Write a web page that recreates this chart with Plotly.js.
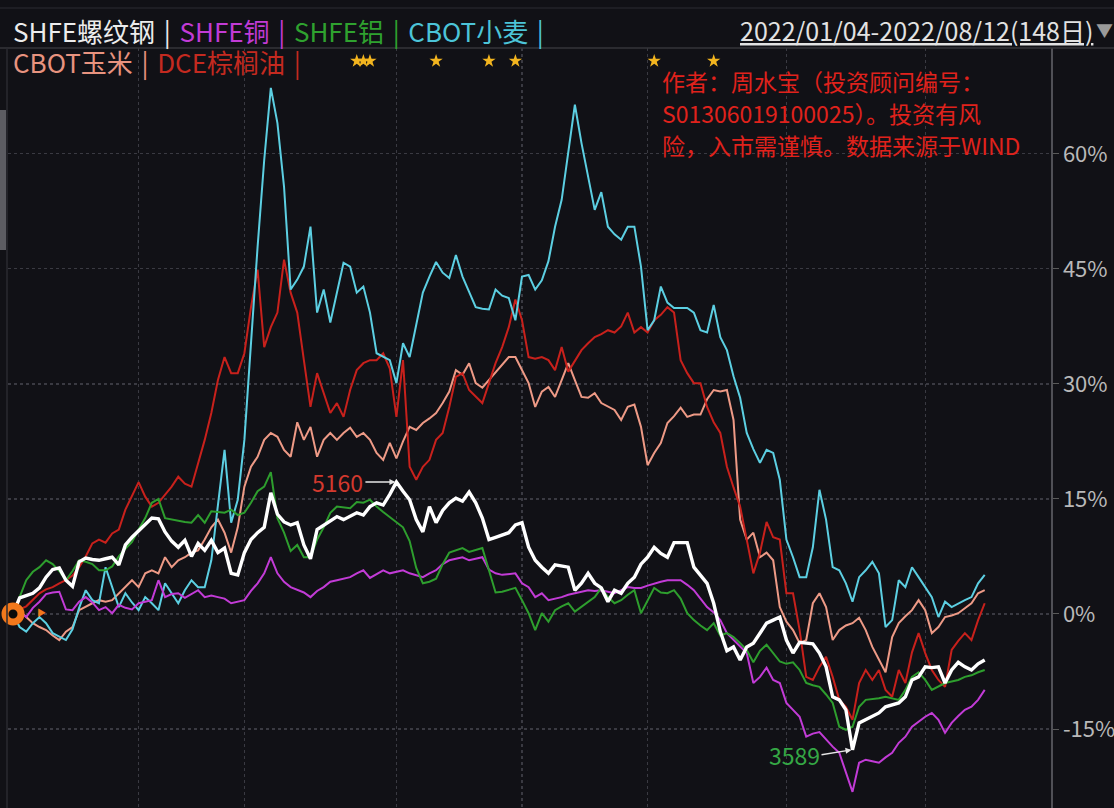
<!DOCTYPE html>
<html>
<head>
<meta charset="utf-8">
<script src="https://cdn.plot.ly/plotly-3.0.1.min.js"></script>
<style>
html,body{margin:0;padding:0;background:#111116;}
#chart{width:1114px;height:808px;}
</style>
</head>
<body>
<div id="chart"></div>
<script>
// ---- data (cumulative % change since 2022/01/04, one value per trading day) ----
const seriesNames = ['SHFE螺纹钢', 'SHFE铜', 'SHFE铝', 'CBOT小麦', 'CBOT玉米', 'DCE棕榈油'];
const dateRange = '2022/01/04-2022/08/12(148日)';
// first trading-day index of Feb, Mar, Apr, May, Jun, Jul, Aug
const monthStartIdx = [19, 35, 58, 77, 96, 117, 138];
const yTicks = [-15, 0, 15, 30, 45, 60];
const yTickText = ['-15%', '0%', '15%', '30%', '45%', '60%'];
const starDays = [52, 53, 54, 64, 72, 76, 97, 106];
const rebarHighLabel = '5160';
const rebarLowLabel = '3589';
const noteLines = ['作者：周水宝（投资顾问编号：', 'S01306019100025）。投资有风', '险，入市需谨慎。数据来源于WIND'];

const rebar = [0, 2.1, 2.4, 2.7, 3.4, 4.8, 5.8, 6.0, 4.4, 3.6, 6.8, 7.3, 7.1, 7.0, 7.2, 7.4, 6.4, 9.0, 10.0, 10.8, 11.6, 12.5, 12.4, 10.7, 9.5, 8.7, 9.6, 7.5, 9.2, 8.3, 9.6, 8.0, 8.6, 5.3, 5.1, 8.0, 9.7, 10.6, 11.3, 15.8, 13.0, 12.0, 11.6, 11.9, 9.0, 7.2, 11.0, 11.6, 12.2, 12.7, 12.3, 12.7, 13.2, 12.9, 14.0, 14.5, 14.2, 15.6, 17.2, 16.0, 14.9, 12.3, 10.7, 14.0, 11.9, 13.5, 14.5, 15.1, 14.7, 15.9, 14.5, 12.5, 9.7, 10.0, 10.3, 10.6, 11.6, 11.9, 8.7, 7.0, 6.1, 5.3, 6.4, 6.2, 6.1, 3.1, 4.0, 5.3, 4.0, 3.4, 1.6, 3.1, 2.7, 4.0, 4.8, 6.5, 7.4, 8.7, 7.9, 7.4, 9.3, 9.3, 9.3, 6.1, 5.0, 4.0, 1.4, -2.3, -4.8, -4.3, -6.0, -4.3, -3.8, -2.5, -1.2, -0.8, -0.4, -3.4, -5.1, -3.7, -3.8, -3.9, -5.1, -6.9, -10.8, -11.2, -12.5, -17.7, -14.2, -13.8, -13.3, -12.9, -12.1, -11.8, -11.6, -10.8, -8.6, -8.2, -6.9, -7.0, -6.9, -9.0, -7.3, -6.3, -6.9, -7.3, -6.5, -6.0];

const copper = [0, 0.3, -0.4, 0.8, 1.6, 2.6, 2.8, 2.9, 0.6, 0.5, 1.6, 2.2, 1.5, 0.5, 0.9, 0.1, 1.2, 0.8, 0.6, 1.4, 1.6, 1.8, 4.4, 2.2, 2.6, 2.7, 2.1, 2.6, 3.1, 2.2, 2.4, 2.2, 2.0, 1.4, 1.6, 1.8, 3.0, 4.0, 5.3, 7.4, 5.3, 4.2, 3.5, 3.1, 2.8, 2.2, 3.0, 3.5, 4.2, 4.4, 4.6, 4.8, 5.3, 5.7, 4.7, 5.2, 5.7, 5.3, 5.5, 5.7, 5.3, 5.0, 4.8, 5.3, 5.7, 6.5, 7.0, 7.2, 7.4, 7.0, 7.2, 7.4, 5.8, 5.3, 5.1, 5.2, 5.3, 4.0, 3.5, 2.2, 2.7, 1.8, 2.0, 2.2, 2.5, 2.7, 2.9, 3.1, 3.0, 3.1, 2.9, 2.7, 3.1, 3.5, 3.4, 3.4, 3.7, 4.0, 4.2, 4.4, 4.4, 4.4, 3.8, 3.1, 2.0, 0.9, 0.2, -0.8, -2.5, -3.4, -4.3, -5.1, -9.0, -8.2, -7.0, -8.6, -9.0, -11.6, -12.5, -13.4, -16.0, -15.6, -15.4, -16.4, -17.3, -18.1, -20.7, -23.2, -19.4, -19.0, -19.2, -19.4, -18.7, -18.1, -16.8, -16.0, -14.7, -14.0, -13.4, -12.9, -13.8, -15.5, -14.2, -13.3, -12.5, -12.1, -11.2, -9.9];

const aluminium = [0, 2.2, 4.4, 5.5, 6.1, 7.0, 6.5, 5.6, 4.4, 5.6, 7.0, 6.8, 6.5, 5.7, 5.7, 6.2, 7.5, 8.5, 9.4, 11.0, 12.5, 14.5, 15.0, 12.5, 12.3, 12.1, 12.0, 11.9, 12.9, 11.9, 13.4, 13.3, 13.2, 13.6, 12.9, 13.2, 14.5, 16.0, 16.6, 18.5, 12.5, 10.6, 8.2, 9.0, 7.4, 7.4, 9.7, 11.3, 13.2, 14.0, 13.9, 13.8, 14.6, 14.5, 14.9, 14.0, 13.3, 12.6, 12.0, 11.3, 9.5, 6.0, 4.0, 4.2, 4.6, 6.5, 8.0, 8.3, 8.6, 8.1, 8.4, 8.6, 5.7, 2.8, 2.9, 3.2, 3.4, 1.8, 0.1, -2.1, 0.1, -1.0, 0.5, 1.0, 1.4, 0.3, 0.9, 1.6, 2.2, 3.4, 2.2, 1.4, 1.8, 2.5, 3.1, 0.1, 1.8, 3.4, 2.8, 2.7, 3.1, 2.0, 0.1, -0.8, -1.5, -2.1, -1.2, -2.8, -2.5, -3.0, -3.8, -4.7, -6.3, -4.8, -4.0, -5.1, -6.2, -6.5, -6.3, -7.3, -9.0, -9.3, -9.5, -10.5, -11.6, -14.7, -15.1, -14.7, -12.1, -11.2, -11.1, -11.0, -10.8, -11.0, -11.2, -9.9, -8.2, -7.6, -8.6, -9.9, -9.5, -9.0, -8.8, -8.6, -8.2, -8.0, -7.6, -7.3];

const wheat = [0, -1.7, -2.3, -1.2, -0.4, -1.2, -2.5, -3.0, -3.4, -2.0, 0.8, 3.1, 1.8, 1.4, 6.1, 3.5, 0.9, 2.7, 1.5, 0.5, 2.2, 1.4, 0.5, 4.0, 2.7, 1.4, 3.1, 4.4, 3.5, 3.5, 7.0, 14.5, 21.4, 11.9, 14.9, 22.7, 35.7, 47.9, 59.2, 68.6, 64.0, 55.7, 42.3, 43.6, 45.3, 50.5, 39.3, 42.3, 38.0, 41.9, 45.8, 45.3, 41.9, 42.7, 39.3, 34.0, 33.5, 33.1, 30.1, 35.3, 33.5, 37.5, 41.9, 44.0, 45.9, 44.5, 43.8, 46.8, 44.0, 42.0, 40.0, 39.8, 39.7, 42.3, 41.5, 41.2, 38.3, 44.0, 44.2, 42.3, 43.5, 46.0, 50.5, 54.0, 60.5, 66.4, 61.4, 57.0, 52.7, 55.0, 50.5, 49.5, 48.8, 50.5, 50.5, 45.3, 37.0, 38.3, 42.7, 40.6, 39.9, 39.9, 39.9, 39.3, 37.0, 36.7, 40.3, 36.1, 34.4, 31.0, 28.2, 23.6, 21.5, 19.7, 21.4, 21.0, 17.5, 9.7, 7.4, 4.8, 4.8, 8.7, 16.2, 12.3, 6.1, 5.7, 4.0, 1.6, 4.8, 5.7, 6.8, 5.3, -1.7, -0.8, 4.4, 3.5, 6.1, 4.8, 3.5, 2.2, -0.4, 1.6, 0.9, 1.4, 1.8, 2.2, 4.0, 5.1];

const corn = [0, 0.4, -0.4, -1.2, -1.7, -2.1, -2.8, -3.4, -2.3, -1.7, 0.5, 1.0, 1.4, 1.8, 1.6, 1.8, 2.7, 3.5, 4.4, 3.5, 5.3, 5.7, 5.3, 7.4, 6.1, 7.0, 7.4, 8.0, 8.3, 9.7, 11.3, 12.3, 10.6, 8.0, 11.3, 16.6, 19.2, 20.5, 22.7, 23.6, 23.1, 21.4, 20.5, 25.0, 22.7, 24.4, 20.5, 22.7, 23.6, 22.7, 23.6, 24.3, 23.1, 23.6, 22.7, 21.0, 20.1, 22.3, 20.3, 22.5, 24.4, 24.0, 24.9, 25.5, 26.2, 27.5, 29.0, 31.8, 31.2, 32.7, 30.1, 29.5, 30.5, 31.4, 32.5, 33.5, 33.5, 31.8, 30.1, 27.0, 29.0, 29.6, 28.3, 30.5, 32.7, 30.5, 28.3, 28.2, 28.8, 27.5, 27.0, 26.6, 25.3, 27.0, 27.3, 24.4, 19.4, 21.0, 22.3, 24.9, 25.8, 26.9, 25.7, 26.0, 26.0, 28.0, 29.2, 29.0, 29.2, 25.3, 12.3, 9.7, 10.6, 7.4, 8.0, 7.0, 0.9, -1.0, -2.1, -3.8, -3.4, 1.4, 2.7, 0.9, -3.4, -2.1, -1.5, -1.2, -0.5, -2.1, -4.3, -6.0, -7.6, -3.0, -1.2, -0.3, 0.5, 1.8, 0.5, -2.5, -1.7, -0.4, -0.2, 0.1, 0.8, 1.4, 2.7, 3.1];

const palmOil = [0, 0.6, 1.0, 1.8, 2.7, 3.2, 3.5, 4.0, 4.4, 5.0, 6.1, 7.5, 9.2, 9.7, 9.3, 10.5, 11.0, 13.6, 15.5, 17.2, 15.3, 14.0, 14.5, 15.5, 16.6, 17.9, 17.0, 16.6, 19.7, 22.7, 26.2, 30.5, 33.5, 31.4, 31.4, 34.0, 40.0, 44.9, 34.8, 37.4, 39.3, 46.2, 41.9, 39.3, 33.1, 27.0, 31.4, 28.8, 26.2, 27.5, 25.7, 29.2, 31.8, 32.7, 33.1, 33.1, 34.0, 32.0, 25.7, 33.1, 19.2, 17.5, 19.2, 20.1, 22.7, 23.6, 27.0, 30.9, 31.4, 29.2, 28.3, 27.5, 30.1, 32.7, 34.8, 37.4, 41.0, 38.3, 33.5, 33.3, 33.5, 33.1, 31.8, 34.8, 31.6, 33.0, 34.4, 35.3, 36.1, 36.5, 37.0, 36.7, 37.5, 39.3, 36.7, 37.4, 36.7, 38.3, 39.0, 40.0, 39.3, 33.1, 31.4, 30.1, 30.1, 27.0, 25.0, 23.6, 19.2, 16.5, 14.0, 9.7, 5.3, 8.0, 12.0, 10.0, 9.7, 2.7, 2.7, -2.1, -8.2, -8.6, -6.9, -5.6, -8.2, -11.2, -12.1, -13.8, -9.0, -7.3, -8.6, -7.3, -9.9, -10.8, -7.3, -9.0, -5.0, -2.5, -5.1, -7.3, -8.6, -9.5, -4.7, -3.5, -2.5, -3.4, -0.8, 1.4];

// ---- styling ----
const FONT = "'Noto Sans CJK SC', 'Noto Sans', sans-serif";
const BG = '#111116';
const colors = {
  rebar: '#ffffff', copper: '#c23bd6', aluminium: '#2e9e2e',
  wheat: '#5ccfe2', corn: '#ee9a86', palmOil: '#c8211c'
};
const textColors = ['#ececec', '#c23bd6', '#2fa22f', '#4cc4d8', '#e8937f', '#c42a20'];

const dayIdx = rebar.map((_, i) => i);

// pixel helpers for layout decorations (plot area: left 8, right 1051, top 48, bottom 808)
const PL = 8, PR = 1051, PT = 48, PB = 808;
const px = v => (v - PL) / (PR - PL);
const py = v => (PB - v) / (PB - PT);

function line(y, color, width, name) {
  return {x: dayIdx, y: y, type: 'scatter', mode: 'lines', name: name,
          line: {color: color, width: width}, hoverinfo: 'skip'};
}

const traces = [
  line(corn, colors.corn, 2, seriesNames[4]),
  line(palmOil, colors.palmOil, 2, seriesNames[5]),
  line(wheat, colors.wheat, 2, seriesNames[3]),
  line(copper, colors.copper, 2, seriesNames[1]),
  line(aluminium, colors.aluminium, 2, seriesNames[2]),
  line(rebar, colors.rebar, 3.4, seriesNames[0]),
  { // base point marker
    x: [dayIdx[0]], y: [rebar[0]], type: 'scatter', mode: 'markers', cliponaxis: false,
    marker: {symbol: 'circle', size: 16, color: '#0a0a0a', line: {color: '#f2781c', width: 7}},
    hoverinfo: 'skip'
  },
  { // event stars along the top of the plot (on a hidden 0..1 overlay axis)
    x: starDays, y: starDays.map(() => py(61)), yaxis: 'y2', type: 'scatter', mode: 'markers',
    cliponaxis: false, marker: {symbol: 'star', size: 10, color: '#f3b51f', line: {width: 0}},
    hoverinfo: 'skip'
  }
];

const SEP = '\u2004|\u2004';
function legendRow(idxs) {
  return idxs.map(i => `<span style="color:${textColors[i]}">${seriesNames[i]}${SEP}</span>`).join('');
}

const iMax = rebar.indexOf(Math.max(...rebar));
const iMin = rebar.indexOf(Math.min(...rebar));

const annotations = [
  {xref: 'paper', yref: 'paper', x: px(11), y: py(31), xanchor: 'left', yanchor: 'middle',
   text: legendRow([0, 1, 2, 3]), showarrow: false, font: {family: FONT, size: 26}},
  {xref: 'paper', yref: 'paper', x: px(11), y: py(62), xanchor: 'left', yanchor: 'middle',
   text: legendRow([4, 5]), showarrow: false, font: {family: FONT, size: 26}},
  {xref: 'paper', yref: 'paper', x: px(1095), y: py(30), xanchor: 'right', yanchor: 'middle',
   text: '<u>' + dateRange + '</u>', showarrow: false, font: {family: FONT, size: 25, color: '#e2e2e2'}},
  {xref: 'paper', yref: 'paper', x: px(1104), y: py(29), xanchor: 'center', yanchor: 'middle',
   text: '▼', showarrow: false, font: {family: FONT, size: 17, color: '#9a9a9a'}},
  {x: dayIdx[iMax], y: rebar[iMax], text: rebarHighLabel, showarrow: true, ax: -31, ay: 0,
   xanchor: 'right', arrowhead: 2, arrowsize: 0.8, arrowwidth: 1.5, arrowcolor: '#e6e6e6', standoff: 1,
   font: {family: FONT, size: 23, color: '#d4392e'}},
  {x: dayIdx[iMin], y: rebar[iMin], text: rebarLowLabel, showarrow: true, ax: -31, ay: 5,
   xanchor: 'right', arrowhead: 2, arrowsize: 0.8, arrowwidth: 1.5, arrowcolor: '#e6e6e6', standoff: 1,
   font: {family: FONT, size: 23, color: '#35a845'}},
  {x: dayIdx[0], y: rebar[0], text: '▶', showarrow: false, xshift: 28, yshift: 1,
   font: {family: FONT, size: 9, color: '#f2781c'}}
];
noteLines.forEach((t, k) => {
  annotations.push({xref: 'paper', yref: 'paper', x: px(660), y: py([81, 113, 145][k]),
    xanchor: 'left', yanchor: 'middle', text: t, showarrow: false,
    font: {family: FONT, size: 23, color: '#e0221c'}});
});

const shapes = [
  {type: 'line', xref: 'paper', yref: 'paper', x0: px(0), x1: px(1114), y0: py(8), y1: py(8),
   line: {color: '#2c2c32', width: 1}},
  {type: 'line', xref: 'paper', yref: 'paper', x0: px(0), x1: px(1114), y0: py(48), y1: py(48),
   line: {color: '#34343a', width: 1.5}},
  {type: 'line', xref: 'paper', yref: 'paper', x0: px(7), x1: px(7), y0: py(48), y1: py(808),
   line: {color: '#2a2a30', width: 1.5}},
  {type: 'rect', xref: 'paper', yref: 'paper', x0: px(0), x1: px(6), y0: py(250), y1: py(110),
   fillcolor: '#5c5c62', line: {width: 0}}
];

const layout = {
  width: 1114, height: 808,
  margin: {l: PL, r: 1114 - PR, t: PT, b: 0, pad: 0},
  paper_bgcolor: BG, plot_bgcolor: BG,
  showlegend: false, hovermode: false,
  xaxis: {range: [-0.76, 157.03], tickmode: 'array', tickvals: monthStartIdx, showticklabels: false, ticks: '',
          showgrid: true, gridcolor: '#3a3a42', griddash: 'dot', gridwidth: 1.2,
          zeroline: false, showline: false, fixedrange: true},
  yaxis: {side: 'right', range: [-25.3, 73.8], tickmode: 'array', tickvals: yTicks, ticktext: yTickText,
          tickfont: {family: FONT, size: 22, color: '#b9b9b9'},
          ticks: 'outside', ticklen: 6, tickcolor: '#5a5a5a', tickwidth: 1,
          showline: true, linecolor: '#505056', linewidth: 1.5,
          showgrid: true, gridcolor: '#3a3a42', griddash: 'dot', gridwidth: 1.2,
          zeroline: false, fixedrange: true},
  yaxis2: {overlaying: 'y', range: [0, 1], visible: false, fixedrange: true},
  annotations: annotations,
  shapes: shapes
};

Plotly.newPlot('chart', traces, layout, {displayModeBar: false, staticPlot: true});
</script>
</body>
</html>
